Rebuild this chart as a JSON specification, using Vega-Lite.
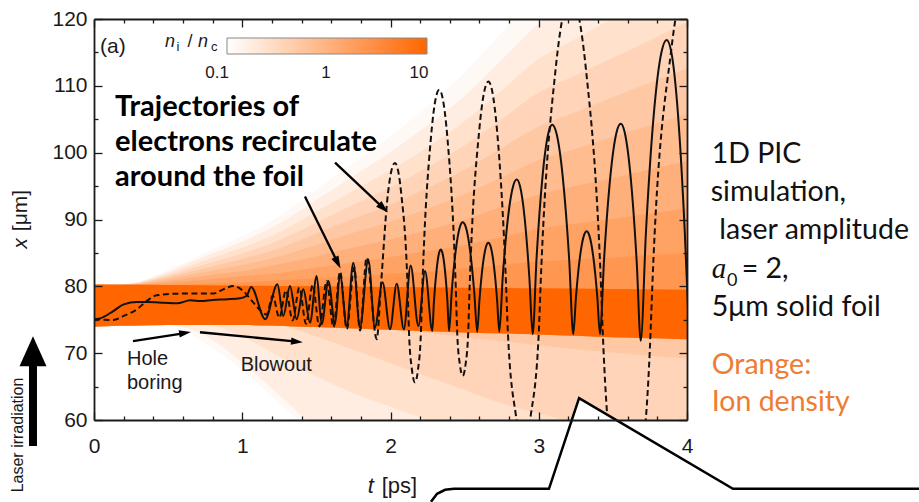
{
"$schema": "https://vega.github.io/schema/vega-lite/v6.json",
"width": 593, "height": 401,
"autosize": {"type": "none"},
"padding": {"left": 94, "top": 19, "right": 232, "bottom": 82},
"background": "white",
"config": {"view": {"stroke": null}},
"resolve": {"axis": {"x": "independent", "y": "independent"}},
"datasets": {
"density": [
{"n":0.12,"t":0,"lo":74.0,"hi":80},{"n":0.12,"t":0.25,"lo":74.1,"hi":80.5},{"n":0.12,"t":0.5,"lo":74.2,"hi":82.5},{"n":0.12,"t":0.75,"lo":71.5,"hi":85},{"n":0.12,"t":1,"lo":67.5,"hi":87.5},{"n":0.12,"t":1.25,"lo":62.5,"hi":90.5},{"n":0.12,"t":1.5,"lo":57.5,"hi":94.5},{"n":0.12,"t":1.75,"lo":53,"hi":98.5},{"n":0.12,"t":2,"lo":50,"hi":102.5},{"n":0.12,"t":2.25,"lo":47,"hi":107},{"n":0.12,"t":2.5,"lo":45,"hi":112},{"n":0.12,"t":2.75,"lo":44,"hi":118},{"n":0.12,"t":3,"lo":43,"hi":124},{"n":0.12,"t":3.25,"lo":42,"hi":128},{"n":0.12,"t":3.5,"lo":41,"hi":132},{"n":0.12,"t":3.75,"lo":40,"hi":136},{"n":0.12,"t":4,"lo":40,"hi":140},
{"n":0.17,"t":0,"lo":74.0,"hi":80},{"n":0.17,"t":0.25,"lo":74.1,"hi":80.4},{"n":0.17,"t":0.5,"lo":74.2,"hi":82.2},{"n":0.17,"t":0.75,"lo":72.6,"hi":84.5},{"n":0.17,"t":1,"lo":68.6,"hi":86.7},{"n":0.17,"t":1.25,"lo":63.7,"hi":89.4},{"n":0.17,"t":1.5,"lo":58.7,"hi":92.9},{"n":0.17,"t":1.75,"lo":54.2,"hi":96.5},{"n":0.17,"t":2,"lo":51,"hi":100.1},{"n":0.17,"t":2.25,"lo":49,"hi":104.1},{"n":0.17,"t":2.5,"lo":47,"hi":108.5},{"n":0.17,"t":2.75,"lo":46,"hi":113.9},{"n":0.17,"t":3,"lo":45,"hi":119.3},{"n":0.17,"t":3.25,"lo":44,"hi":122.8},{"n":0.17,"t":3.5,"lo":43,"hi":126.4},{"n":0.17,"t":3.75,"lo":42,"hi":130.0},{"n":0.17,"t":4,"lo":41,"hi":133.5},
{"n":0.25,"t":0,"lo":74.0,"hi":80},{"n":0.25,"t":0.25,"lo":74.1,"hi":80.4},{"n":0.25,"t":0.5,"lo":74.2,"hi":81.9},{"n":0.25,"t":0.75,"lo":74.2,"hi":83.9},{"n":0.25,"t":1,"lo":72.5,"hi":85.8},{"n":0.25,"t":1.25,"lo":69.5,"hi":88.1},{"n":0.25,"t":1.5,"lo":66.5,"hi":91.2},{"n":0.25,"t":1.75,"lo":64,"hi":94.3},{"n":0.25,"t":2,"lo":62,"hi":97.4},{"n":0.25,"t":2.25,"lo":60,"hi":100.8},{"n":0.25,"t":2.5,"lo":58,"hi":104.7},{"n":0.25,"t":2.75,"lo":56.5,"hi":109.3},{"n":0.25,"t":3,"lo":55,"hi":114.0},{"n":0.25,"t":3.25,"lo":53.5,"hi":117.1},{"n":0.25,"t":3.5,"lo":52,"hi":120.1},{"n":0.25,"t":3.75,"lo":51,"hi":123.2},{"n":0.25,"t":4,"lo":50,"hi":126.3},
{"n":0.36,"t":0,"lo":74.0,"hi":80},{"n":0.36,"t":0.25,"lo":74.1,"hi":80.3},{"n":0.36,"t":0.5,"lo":74.2,"hi":81.6},{"n":0.36,"t":0.75,"lo":74.2,"hi":83.3},{"n":0.36,"t":1,"lo":74.2,"hi":84.9},{"n":0.36,"t":1.25,"lo":74.1,"hi":86.9},{"n":0.36,"t":1.5,"lo":72.5,"hi":89.5},{"n":0.36,"t":1.75,"lo":70.5,"hi":92.2},{"n":0.36,"t":2,"lo":68.5,"hi":94.8},{"n":0.36,"t":2.25,"lo":66.5,"hi":97.8},{"n":0.36,"t":2.5,"lo":64.5,"hi":101.1},{"n":0.36,"t":2.75,"lo":62.5,"hi":105.0},{"n":0.36,"t":3,"lo":61,"hi":109.0},{"n":0.36,"t":3.25,"lo":59.5,"hi":111.6},{"n":0.36,"t":3.5,"lo":58,"hi":114.2},{"n":0.36,"t":3.75,"lo":57,"hi":116.8},{"n":0.36,"t":4,"lo":56,"hi":119.5},
{"n":0.52,"t":0,"lo":74.0,"hi":80},{"n":0.52,"t":0.25,"lo":74.1,"hi":80.3},{"n":0.52,"t":0.5,"lo":74.2,"hi":81.4},{"n":0.52,"t":0.75,"lo":74.2,"hi":82.7},{"n":0.52,"t":1,"lo":74.2,"hi":84.1},{"n":0.52,"t":1.25,"lo":74.1,"hi":85.7},{"n":0.52,"t":1.5,"lo":73.9,"hi":87.9},{"n":0.52,"t":1.75,"lo":73.7,"hi":90.1},{"n":0.52,"t":2,"lo":73.5,"hi":92.2},{"n":0.52,"t":2.25,"lo":73.0,"hi":94.7},{"n":0.52,"t":2.5,"lo":72.4,"hi":97.4},{"n":0.52,"t":2.75,"lo":71.8,"hi":100.7},{"n":0.52,"t":3,"lo":71.2,"hi":103.9},{"n":0.52,"t":3.25,"lo":70.6,"hi":106.1},{"n":0.52,"t":3.5,"lo":70.1,"hi":108.3},{"n":0.52,"t":3.75,"lo":69.6,"hi":110.5},{"n":0.52,"t":4,"lo":69.2,"hi":112.6},
{"n":0.75,"t":0,"lo":74.0,"hi":80},{"n":0.75,"t":0.25,"lo":74.1,"hi":80.2},{"n":0.75,"t":0.5,"lo":74.2,"hi":81.1},{"n":0.75,"t":0.75,"lo":74.2,"hi":82.2},{"n":0.75,"t":1,"lo":74.2,"hi":83.2},{"n":0.75,"t":1.25,"lo":74.1,"hi":84.5},{"n":0.75,"t":1.5,"lo":73.9,"hi":86.2},{"n":0.75,"t":1.75,"lo":73.7,"hi":88.0},{"n":0.75,"t":2,"lo":73.5,"hi":89.7},{"n":0.75,"t":2.25,"lo":73.3,"hi":91.6},{"n":0.75,"t":2.5,"lo":73.1,"hi":93.8},{"n":0.75,"t":2.75,"lo":73.0,"hi":96.3},{"n":0.75,"t":3,"lo":72.8,"hi":98.9},{"n":0.75,"t":3.25,"lo":72.6,"hi":100.6},{"n":0.75,"t":3.5,"lo":72.4,"hi":102.4},{"n":0.75,"t":3.75,"lo":72.3,"hi":104.1},{"n":0.75,"t":4,"lo":72.1,"hi":105.8},
{"n":1.1,"t":0,"lo":74.0,"hi":80},{"n":1.1,"t":0.25,"lo":74.1,"hi":80.2},{"n":1.1,"t":0.5,"lo":74.2,"hi":80.8},{"n":1.1,"t":0.75,"lo":74.2,"hi":81.6},{"n":1.1,"t":1,"lo":74.2,"hi":82.3},{"n":1.1,"t":1.25,"lo":74.1,"hi":83.3},{"n":1.1,"t":1.5,"lo":73.9,"hi":84.5},{"n":1.1,"t":1.75,"lo":73.7,"hi":85.8},{"n":1.1,"t":2,"lo":73.5,"hi":87.0},{"n":1.1,"t":2.25,"lo":73.3,"hi":88.4},{"n":1.1,"t":2.5,"lo":73.1,"hi":90.0},{"n":1.1,"t":2.75,"lo":73.0,"hi":91.9},{"n":1.1,"t":3,"lo":72.8,"hi":93.7},{"n":1.1,"t":3.25,"lo":72.6,"hi":95.0},{"n":1.1,"t":3.5,"lo":72.4,"hi":96.2},{"n":1.1,"t":3.75,"lo":72.3,"hi":97.5},{"n":1.1,"t":4,"lo":72.1,"hi":98.7},
{"n":1.6,"t":0,"lo":74.0,"hi":80},{"n":1.6,"t":0.25,"lo":74.1,"hi":80.1},{"n":1.6,"t":0.5,"lo":74.2,"hi":80.5},{"n":1.6,"t":0.75,"lo":74.2,"hi":81.0},{"n":1.6,"t":1,"lo":74.2,"hi":81.5},{"n":1.6,"t":1.25,"lo":74.1,"hi":82.0},{"n":1.6,"t":1.5,"lo":73.9,"hi":82.8},{"n":1.6,"t":1.75,"lo":73.7,"hi":83.6},{"n":1.6,"t":2,"lo":73.5,"hi":84.4},{"n":1.6,"t":2.25,"lo":73.3,"hi":85.3},{"n":1.6,"t":2.5,"lo":73.1,"hi":86.2},{"n":1.6,"t":2.75,"lo":73.0,"hi":87.4},{"n":1.6,"t":3,"lo":72.8,"hi":88.6},{"n":1.6,"t":3.25,"lo":72.6,"hi":89.4},{"n":1.6,"t":3.5,"lo":72.4,"hi":90.1},{"n":1.6,"t":3.75,"lo":72.3,"hi":90.9},{"n":1.6,"t":4,"lo":72.1,"hi":91.7},
{"n":2.3,"t":0,"lo":74.0,"hi":80},{"n":2.3,"t":0.25,"lo":74.1,"hi":80},{"n":2.3,"t":0.5,"lo":74.2,"hi":80.2},{"n":2.3,"t":0.75,"lo":74.2,"hi":80.4},{"n":2.3,"t":1,"lo":74.2,"hi":80.6},{"n":2.3,"t":1.25,"lo":74.1,"hi":80.9},{"n":2.3,"t":1.5,"lo":73.9,"hi":81.2},{"n":2.3,"t":1.75,"lo":73.7,"hi":81.5},{"n":2.3,"t":2,"lo":73.5,"hi":81.9},{"n":2.3,"t":2.25,"lo":73.3,"hi":82.2},{"n":2.3,"t":2.5,"lo":73.1,"hi":82.7},{"n":2.3,"t":2.75,"lo":73.0,"hi":83.2},{"n":2.3,"t":3,"lo":72.8,"hi":83.7},{"n":2.3,"t":3.25,"lo":72.6,"hi":84.0},{"n":2.3,"t":3.5,"lo":72.4,"hi":84.3},{"n":2.3,"t":3.75,"lo":72.3,"hi":84.7},{"n":2.3,"t":4,"lo":72.1,"hi":85.0}
],
"band": [
{"t":0,"lo":74.0,"hi":80.3},{"t":0.5,"lo":74.2,"hi":80.2},{"t":1,"lo":74.2,"hi":80.1},{"t":1.5,"lo":73.9,"hi":80.0},{"t":2,"lo":73.5,"hi":79.9},{"t":2.5,"lo":73.1,"hi":79.8},{"t":3,"lo":72.8,"hi":79.7},{"t":3.5,"lo":72.4,"hi":79.6},{"t":4,"lo":72.1,"hi":79.5}
],
"traj": [
{"id":"s","t":0,"x":75.07},{"id":"s","t":0.04,"x":75.2},{"id":"s","t":0.13,"x":76.3},{"id":"s","t":0.2,"x":77.3},{"id":"s","t":0.29,"x":77.66},{"id":"s","t":0.36,"x":77.66},{"id":"s","t":0.47,"x":77.56},{"id":"s","t":0.56,"x":77.46},{"id":"s","t":0.65,"x":77.9},{"id":"s","t":0.72,"x":77.8},{"id":"s","t":0.8,"x":77.97},{"id":"s","t":0.9,"x":78.07},{"id":"s","t":0.985,"x":78.2},{"id":"s","t":1.03,"x":78.6},{"id":"s","t":1.06,"x":79.9},{"id":"s","t":1.155,"x":75.07},
{"id":"s","t":1.237,"x":80.3},{"id":"s","t":1.277,"x":75.57},{"id":"s","t":1.322,"x":80.05},{"id":"s","t":1.367,"x":75.07},{"id":"s","t":1.412,"x":79.55},{"id":"s","t":1.457,"x":74.58},{"id":"s","t":1.502,"x":81.54},{"id":"s","t":1.536,"x":74.33},{"id":"s","t":1.581,"x":80.79},{"id":"s","t":1.626,"x":74.33},{"id":"s","t":1.659,"x":81.79},{"id":"s","t":1.705,"x":74.07},{"id":"s","t":1.749,"x":83.54},{"id":"s","t":1.794,"x":73.84},{"id":"s","t":1.85,"x":84.03},{"id":"s","t":1.895,"x":73.84},{"id":"s","t":1.946,"x":80.6},{"id":"s","t":1.997,"x":73.58},{"id":"s","t":2.042,"x":80.4},{"id":"s","t":2.09,"x":73.58},{"id":"s","t":2.136,"x":83.1},{"id":"s","t":2.188,"x":74.07},{"id":"s","t":2.233,"x":82.28},{"id":"s","t":2.282,"x":73.33},
{"id":"s","t":2.293,"x":77.72},{"id":"s","t":2.311,"x":82.47},{"id":"s","t":2.328,"x":85.03},{"id":"s","t":2.339,"x":85.52},{"id":"s","t":2.35,"x":85.03},{"id":"s","t":2.367,"x":82.47},{"id":"s","t":2.384,"x":77.72},{"id":"s","t":2.395,"x":73.33},
{"id":"s","t":2.413,"x":79.19},{"id":"s","t":2.441,"x":85.53},{"id":"s","t":2.469,"x":88.95},{"id":"s","t":2.487,"x":89.6},{"id":"s","t":2.507,"x":88.94},{"id":"s","t":2.536,"x":85.5},{"id":"s","t":2.565,"x":79.09},{"id":"s","t":2.585,"x":73.18},
{"id":"s","t":2.6,"x":77.98},{"id":"s","t":2.6225,"x":83.18},{"id":"s","t":2.645,"x":85.99},{"id":"s","t":2.66,"x":86.52},{"id":"s","t":2.675,"x":85.99},{"id":"s","t":2.697,"x":83.18},{"id":"s","t":2.719,"x":77.98},{"id":"s","t":2.734,"x":73.18},
{"id":"s","t":2.757,"x":81.38},{"id":"s","t":2.7925,"x":90.27},{"id":"s","t":2.828,"x":95.06},{"id":"s","t":2.851,"x":95.97},{"id":"s","t":2.873,"x":95.04},{"id":"s","t":2.905,"x":90.19},{"id":"s","t":2.937,"x":81.17},{"id":"s","t":2.959,"x":72.84},
{"id":"s","t":2.985,"x":84.12},{"id":"s","t":3.025,"x":96.35},{"id":"s","t":3.065,"x":102.93},{"id":"s","t":3.091,"x":104.18},{"id":"s","t":3.119,"x":102.93},{"id":"s","t":3.162,"x":96.35},{"id":"s","t":3.205,"x":84.12},{"id":"s","t":3.233,"x":72.84},
{"id":"s","t":3.251,"x":78.39},{"id":"s","t":3.278,"x":84.4},{"id":"s","t":3.305,"x":87.63},{"id":"s","t":3.323,"x":88.25},{"id":"s","t":3.341,"x":87.63},{"id":"s","t":3.368,"x":84.4},{"id":"s","t":3.395,"x":78.39},{"id":"s","t":3.413,"x":72.84},
{"id":"s","t":3.441,"x":84.18},{"id":"s","t":3.483,"x":96.46},{"id":"s","t":3.525,"x":103.07},{"id":"s","t":3.553,"x":104.33},{"id":"s","t":3.58,"x":103.03},{"id":"s","t":3.6205,"x":96.21},{"id":"s","t":3.661,"x":83.54},{"id":"s","t":3.688,"x":71.84},
{"id":"s","t":3.723,"x":88.05},{"id":"s","t":3.7755,"x":105.61},{"id":"s","t":3.828,"x":115.07},{"id":"s","t":3.863,"x":116.87},{"id":"s","t":3.894,"x":115.08},{"id":"s","t":3.9395,"x":105.65},{"id":"s","t":3.985,"x":88.15},{"id":"s","t":4.016,"x":72},
{"id":"d","t":0,"x":75.07},{"id":"d","t":0.07,"x":75.0},{"id":"d","t":0.13,"x":74.97},{"id":"d","t":0.2,"x":75.57},{"id":"d","t":0.29,"x":76.57},{"id":"d","t":0.355,"x":77.8},{"id":"d","t":0.423,"x":78.66},{"id":"d","t":0.58,"x":78.91},{"id":"d","t":0.805,"x":78.91},{"id":"d","t":0.872,"x":79.55},{"id":"d","t":0.94,"x":80.05},{"id":"d","t":1.007,"x":79.3},{"id":"d","t":1.075,"x":77.57},{"id":"d","t":1.165,"x":75.8},
{"id":"d","t":1.205,"x":78.6},{"id":"d","t":1.25,"x":75.3},{"id":"d","t":1.295,"x":79.4},{"id":"d","t":1.34,"x":74.9},{"id":"d","t":1.385,"x":79.8},{"id":"d","t":1.43,"x":74.4},{"id":"d","t":1.475,"x":80.2},{"id":"d","t":1.52,"x":74.0},{"id":"d","t":1.57,"x":80.8},{"id":"d","t":1.615,"x":73.9},{"id":"d","t":1.66,"x":82.2},{"id":"d","t":1.705,"x":73.6},{"id":"d","t":1.755,"x":82.8},{"id":"d","t":1.795,"x":73.4},{"id":"d","t":1.839,"x":84.3},{"id":"d","t":1.907,"x":72.1},
{"id":"d","t":1.935,"x":80},{"id":"d","t":1.9825,"x":93.85},{"id":"d","t":2.011,"x":97.72},{"id":"d","t":2.03,"x":98.46},{"id":"d","t":2.047,"x":97.72},{"id":"d","t":2.0725,"x":93.85},{"id":"d","t":2.115,"x":80},{"id":"d","t":2.125,"x":73},{"id":"d","t":2.145,"x":67.47},{"id":"d","t":2.165,"x":65.63},{"id":"d","t":2.185,"x":67.47},{"id":"d","t":2.205,"x":73},{"id":"d","t":2.215,"x":80},
{"id":"d","t":2.272,"x":102.05},{"id":"d","t":2.306,"x":108.22},{"id":"d","t":2.329,"x":109.4},{"id":"d","t":2.351,"x":108.22},{"id":"d","t":2.3845,"x":102.05},{"id":"d","t":2.44,"x":80},{"id":"d","t":2.45,"x":73},{"id":"d","t":2.4685,"x":68.21},{"id":"d","t":2.487,"x":66.61},{"id":"d","t":2.5055,"x":68.21},{"id":"d","t":2.524,"x":73},{"id":"d","t":2.534,"x":80},
{"id":"d","t":2.597,"x":102.98},{"id":"d","t":2.635,"x":109.41},{"id":"d","t":2.66,"x":110.64},{"id":"d","t":2.684,"x":109.41},{"id":"d","t":2.72,"x":102.98},{"id":"d","t":2.78,"x":80},{"id":"d","t":2.792,"x":73},{"id":"d","t":2.844,"x":61},{"id":"d","t":2.896,"x":57},{"id":"d","t":2.948,"x":61},{"id":"d","t":3.0,"x":73},{"id":"d","t":3.012,"x":80},
{"id":"d","t":3.114,"x":112.55},{"id":"d","t":3.175,"x":121.66},{"id":"d","t":3.216,"x":123.4},{"id":"d","t":3.257,"x":121.66},{"id":"d","t":3.318,"x":112.55},{"id":"d","t":3.42,"x":80},{"id":"d","t":3.432,"x":73},{"id":"d","t":3.5125,"x":49.75},{"id":"d","t":3.593,"x":42},{"id":"d","t":3.6735,"x":49.75},{"id":"d","t":3.754,"x":73},{"id":"d","t":3.766,"x":80},{"id":"d","t":3.893,"x":115.25},{"id":"d","t":3.969,"x":125.12},{"id":"d","t":4.02,"x":127}
],
"arrows": [
{"t":1.626,"x":98.51,"t2":1.952,"x2":91.70},
{"t":1.423,"x":93.43,"t2":1.644,"x2":83.51},
{"t":0.263,"x":71.79,"t2":0.614,"x2":73.01},
{"t":0.715,"x":73.13,"t2":1.369,"x2":71.72}
],
"legendLabels": [
{"t":0.830,"label":"0.1"},{"t":1.565,"label":"1"},{"t":2.192,"label":"10"}
],
"bubble": [
{"t":2.273,"x":47.76},{"t":2.314,"x":48.96},{"t":2.368,"x":49.55},{"t":2.428,"x":49.70},{"t":3.069,"x":49.70},{"t":3.272,"x":63.28},{"t":4.310,"x":49.70},{"t":5.565,"x":49.70}
],
"bubbleFill": [
{"t":3.069,"lo":49.70,"hi":49.70},{"t":3.272,"lo":49.70,"hi":63.28},{"t":4.310,"lo":49.70,"hi":49.70}
]
},
"layer": [
{
"data": {"name": "density"},
"mark": {"type": "area", "orient": "vertical", "interpolate": "monotone", "clip": true},
"encoding": {
"x": {"field": "t", "type": "quantitative", "scale": {"domain": [0, 4], "nice": false, "zero": false},
"axis": {"orient": "bottom", "values": [0,0.2,0.4,0.6,0.8,1,1.2,1.4,1.6,1.8,2,2.2,2.4,2.6,2.8,3,3.2,3.4,3.6,3.8,4], "title": null, "grid": false,
"labelExpr": "abs(datum.value-round(datum.value))<0.001 ? format(datum.value, 'd') : ''", "labelFlush": false, "labelOverlap": false,
"labelFont": "Liberation Sans", "labelFontSize": 21, "labelColor": "#1a1a1a", "labelPadding": 23,
"tickSize": {"condition": {"test": "abs(datum.value-round(datum.value))<0.001", "value": -8}, "value": -4},
"tickColor": "#1a1a1a", "tickWidth": 1.3, "domainColor": "#1a1a1a", "domainWidth": 1.8, "zindex": 1}},
"y": {"field": "lo", "type": "quantitative", "scale": {"domain": [60, 120], "nice": false, "zero": false},
"axis": {"orient": "left", "values": [60,65,70,75,80,85,90,95,100,105,110,115,120], "title": null, "grid": false,
"labelExpr": "datum.value % 10 === 0 ? datum.label : ''", "labelFlush": false, "labelOverlap": false,
"labelFont": "Liberation Sans", "labelFontSize": 21, "labelColor": "#1a1a1a", "labelPadding": 15,
"tickSize": {"condition": {"test": "datum.value % 10 === 0", "value": -8}, "value": -4},
"tickColor": "#1a1a1a", "tickWidth": 1.3, "domainColor": "#1a1a1a", "domainWidth": 1.8, "zindex": 1}},
"y2": {"field": "hi"},
"color": {"field": "n", "type": "quantitative",
"scale": {"type": "log", "domain": [0.1, 10], "range": ["#ffffff", "#ff6600"], "interpolate": "rgb"},
"legend": {"orient": "none", "legendX": 133, "legendY": 19, "direction": "horizontal", "gradientLength": 200, "gradientThickness": 16,
"title": null, "labelExpr": "''", "labelOpacity": 0, "labelFontSize": 1, "gradientStrokeColor": "#888888", "gradientStrokeWidth": 1}},
"detail": {"field": "n", "type": "nominal"}
}
},
{
"data": {"name": "band"},
"mark": {"type": "area", "orient": "vertical", "interpolate": "monotone", "clip": true, "color": "#ff6600"},
"encoding": {
"x": {"field": "t", "type": "quantitative", "axis": null},
"y": {"field": "lo", "type": "quantitative", "axis": null},
"y2": {"field": "hi"}
}
},
{
"data": {"name": "traj"},
"transform": [{"filter": "datum.id === 's'"}],
"mark": {"type": "line", "interpolate": "monotone", "clip": true, "color": "#111111", "strokeWidth": 2},
"encoding": {
"x": {"field": "t", "type": "quantitative",
"axis": {"orient": "top", "values": [0,0.2,0.4,0.6,0.8,1,1.2,1.4,1.6,1.8,2,2.2,2.4,2.6,2.8,3,3.2,3.4,3.6,3.8,4], "title": null, "grid": false, "labels": false,
"tickSize": {"condition": {"test": "abs(datum.value-round(datum.value))<0.001", "value": -8}, "value": -4},
"tickColor": "#1a1a1a", "tickWidth": 1.3, "domainColor": "#1a1a1a", "domainWidth": 1.8, "zindex": 1}},
"y": {"field": "x", "type": "quantitative",
"axis": {"orient": "right", "values": [60,65,70,75,80,85,90,95,100,105,110,115,120], "title": null, "grid": false, "labels": false,
"tickSize": {"condition": {"test": "datum.value % 10 === 0", "value": -8}, "value": -4},
"tickColor": "#1a1a1a", "tickWidth": 1.3, "domainColor": "#1a1a1a", "domainWidth": 1.8, "zindex": 1}}
}
},
{
"data": {"name": "traj"},
"transform": [{"filter": "datum.id === 'd'"}],
"mark": {"type": "line", "interpolate": "monotone", "clip": true, "color": "#111111", "strokeWidth": 2, "strokeDash": [6, 3.5]},
"encoding": {
"x": {"field": "t", "type": "quantitative", "axis": null},
"y": {"field": "x", "type": "quantitative", "axis": null}
}
},
{
"data": {"name": "arrows"},
"mark": {"type": "rule", "color": "#000000", "strokeWidth": 2.3},
"encoding": {
"x": {"field": "t", "type": "quantitative", "axis": null},
"y": {"field": "x", "type": "quantitative", "axis": null},
"x2": {"field": "t2"},
"y2": {"field": "x2"}
}
},
{"data": {"values": [{}]}, "mark": {"type": "point", "shape": "M0,-1L0.62,1L-0.62,1Z", "filled": true, "color": "#000000", "opacity": 1, "size": 160, "angle": 133.3},
"encoding": {"x": {"datum": 1.952, "type": "quantitative", "axis": null}, "y": {"datum": 91.70, "type": "quantitative", "axis": null}}},
{"data": {"values": [{}]}, "mark": {"type": "point", "shape": "M0,-1L0.62,1L-0.62,1Z", "filled": true, "color": "#000000", "opacity": 1, "size": 160, "angle": 153.8},
"encoding": {"x": {"datum": 1.644, "type": "quantitative", "axis": null}, "y": {"datum": 83.51, "type": "quantitative", "axis": null}}},
{"data": {"values": [{}]}, "mark": {"type": "point", "shape": "M0,-1L0.62,1L-0.62,1Z", "filled": true, "color": "#000000", "opacity": 1, "size": 140, "angle": 81},
"encoding": {"x": {"datum": 0.614, "type": "quantitative", "axis": null}, "y": {"datum": 73.01, "type": "quantitative", "axis": null}}},
{"data": {"values": [{}]}, "mark": {"type": "point", "shape": "M0,-1L0.62,1L-0.62,1Z", "filled": true, "color": "#000000", "opacity": 1, "size": 140, "angle": 95.6},
"encoding": {"x": {"datum": 1.369, "type": "quantitative", "axis": null}, "y": {"datum": 71.72, "type": "quantitative", "axis": null}}},
{"data": {"values": [{}]}, "mark": {"type": "rule", "color": "#000000", "strokeWidth": 8},
"encoding": {"x": {"datum": -0.4115, "type": "quantitative", "axis": null}, "y": {"datum": 56.12, "type": "quantitative", "axis": null}, "y2": {"datum": 69.0}}},
{"data": {"values": [{}]}, "mark": {"type": "point", "shape": "M-0.9,1L0.9,1L0,-1Z", "filled": true, "color": "#000000", "opacity": 1, "size": 900},
"encoding": {"x": {"datum": -0.4115, "type": "quantitative", "axis": null}, "y": {"datum": 70.3, "type": "quantitative", "axis": null}}},
{"data": {"name": "legendLabels"}, "mark": {"type": "text", "font": "Liberation Sans", "fontSize": 17, "align": "center", "baseline": "alphabetic", "color": "#1a1a1a"},
"encoding": {"x": {"field": "t", "type": "quantitative", "axis": null}, "y": {"datum": 111.19, "type": "quantitative", "axis": null}, "text": {"field": "label"}}},
{"data": {"values": [{}]}, "mark": {"type": "text", "text": "(a)", "font": "Liberation Sans", "fontSize": 21, "align": "left", "baseline": "alphabetic", "color": "#1a1a1a"},
"encoding": {"x": {"datum": 0.0405, "type": "quantitative", "axis": null}, "y": {"datum": 114.9, "type": "quantitative", "axis": null}}},
{"data": {"values": [{}]}, "mark": {"type": "text", "text": "n", "font": "Liberation Sans", "fontStyle": "italic", "fontSize": 18, "align": "center", "baseline": "alphabetic", "color": "#1a1a1a"},
"encoding": {"x": {"datum": 0.513, "type": "quantitative", "axis": null}, "y": {"datum": 115.82, "type": "quantitative", "axis": null}}},
{"data": {"values": [{}]}, "mark": {"type": "text", "text": "i", "font": "Liberation Sans", "fontSize": 13, "align": "left", "baseline": "alphabetic", "color": "#1a1a1a"},
"encoding": {"x": {"datum": 0.556, "type": "quantitative", "axis": null}, "y": {"datum": 115.22, "type": "quantitative", "axis": null}}},
{"data": {"values": [{}]}, "mark": {"type": "text", "text": "/", "font": "Liberation Sans", "fontSize": 18, "align": "center", "baseline": "alphabetic", "color": "#1a1a1a"},
"encoding": {"x": {"datum": 0.6476, "type": "quantitative", "axis": null}, "y": {"datum": 115.82, "type": "quantitative", "axis": null}}},
{"data": {"values": [{}]}, "mark": {"type": "text", "text": "n", "font": "Liberation Sans", "fontStyle": "italic", "fontSize": 18, "align": "center", "baseline": "alphabetic", "color": "#1a1a1a"},
"encoding": {"x": {"datum": 0.7352, "type": "quantitative", "axis": null}, "y": {"datum": 115.82, "type": "quantitative", "axis": null}}},
{"data": {"values": [{}]}, "mark": {"type": "text", "text": "c", "font": "Liberation Sans", "fontSize": 13, "align": "left", "baseline": "alphabetic", "color": "#1a1a1a"},
"encoding": {"x": {"datum": 0.79, "type": "quantitative", "axis": null}, "y": {"datum": 115.22, "type": "quantitative", "axis": null}}},
{"data": {"values": [{}]}, "mark": {"type": "text", "text": ["Trajectories of", "electrons recirculate", "around the foil"], "font": "Lato", "fontWeight": "bold", "fontSize": 29, "lineHeight": 35, "align": "left", "baseline": "alphabetic", "color": "#000000"},
"encoding": {"x": {"datum": 0.1417, "type": "quantitative", "axis": null}, "y": {"datum": 105.42, "type": "quantitative", "axis": null}}},
{"data": {"values": [{}]}, "mark": {"type": "text", "text": ["Hole", "boring"], "font": "Liberation Sans", "fontSize": 20, "lineHeight": 24, "align": "left", "baseline": "alphabetic", "color": "#1a1a1a"},
"encoding": {"x": {"datum": 0.2226, "type": "quantitative", "axis": null}, "y": {"datum": 68.21, "type": "quantitative", "axis": null}}},
{"data": {"values": [{}]}, "mark": {"type": "text", "text": "Blowout", "font": "Liberation Sans", "fontSize": 20, "align": "left", "baseline": "alphabetic", "color": "#1a1a1a"},
"encoding": {"x": {"datum": 0.9895, "type": "quantitative", "axis": null}, "y": {"datum": 67.36, "type": "quantitative", "axis": null}}},
{"data": {"values": [{}]}, "mark": {"type": "text", "text": "x", "font": "Liberation Sans", "fontStyle": "italic", "fontSize": 21, "angle": 270, "align": "center", "baseline": "middle", "color": "#1a1a1a"},
"encoding": {"x": {"datum": -0.4924, "type": "quantitative", "axis": null}, "y": {"datum": 86.42, "type": "quantitative", "axis": null}}},
{"data": {"values": [{}]}, "mark": {"type": "text", "text": "[μm]", "font": "Liberation Sans", "fontSize": 21, "angle": 270, "align": "center", "baseline": "middle", "color": "#1a1a1a"},
"encoding": {"x": {"datum": -0.4924, "type": "quantitative", "axis": null}, "y": {"datum": 91.34, "type": "quantitative", "axis": null}}},
{"data": {"values": [{}]}, "mark": {"type": "text", "text": "t", "font": "Liberation Sans", "fontStyle": "italic", "fontSize": 22, "align": "center", "baseline": "alphabetic", "color": "#1a1a1a"},
"encoding": {"x": {"datum": 1.868, "type": "quantitative", "axis": null}, "y": {"datum": 49.10, "type": "quantitative", "axis": null}}},
{"data": {"values": [{}]}, "mark": {"type": "text", "text": "[ps]", "font": "Liberation Sans", "fontSize": 22, "align": "center", "baseline": "alphabetic", "color": "#1a1a1a"},
"encoding": {"x": {"datum": 2.06, "type": "quantitative", "axis": null}, "y": {"datum": 49.10, "type": "quantitative", "axis": null}}},
{"data": {"values": [{}]}, "mark": {"type": "text", "text": "Laser irradiation", "font": "Liberation Sans", "fontSize": 16, "angle": 270, "align": "center", "baseline": "middle", "color": "#1a1a1a"},
"encoding": {"x": {"datum": -0.516, "type": "quantitative", "axis": null}, "y": {"datum": 57.76, "type": "quantitative", "axis": null}}},
{"data": {"values": [{}]}, "mark": {"type": "text", "text": "1D PIC", "font": "Lato", "fontSize": 28.5, "align": "left", "baseline": "alphabetic", "color": "#111111"},
"encoding": {"x": {"datum": 4.167, "type": "quantitative", "axis": null}, "y": {"datum": 98.46, "type": "quantitative", "axis": null}}},
{"data": {"values": [{}]}, "mark": {"type": "text", "text": "simulation,", "font": "Lato", "fontSize": 28.5, "align": "left", "baseline": "alphabetic", "color": "#111111"},
"encoding": {"x": {"datum": 4.160, "type": "quantitative", "axis": null}, "y": {"datum": 92.73, "type": "quantitative", "axis": null}}},
{"data": {"values": [{}]}, "mark": {"type": "text", "text": "laser amplitude", "font": "Lato", "fontSize": 28.5, "align": "left", "baseline": "alphabetic", "color": "#111111"},
"encoding": {"x": {"datum": 4.218, "type": "quantitative", "axis": null}, "y": {"datum": 87.01, "type": "quantitative", "axis": null}}},
{"data": {"values": [{}]}, "mark": {"type": "text", "text": "a", "font": "Liberation Serif", "fontStyle": "italic", "fontSize": 29, "align": "left", "baseline": "alphabetic", "color": "#111111"},
"encoding": {"x": {"datum": 4.167, "type": "quantitative", "axis": null}, "y": {"datum": 81.30, "type": "quantitative", "axis": null}}},
{"data": {"values": [{}]}, "mark": {"type": "text", "text": "0", "font": "Lato", "fontSize": 18, "align": "left", "baseline": "alphabetic", "color": "#111111"},
"encoding": {"x": {"datum": 4.27, "type": "quantitative", "axis": null}, "y": {"datum": 80.1, "type": "quantitative", "axis": null}}},
{"data": {"values": [{}]}, "mark": {"type": "text", "text": "= 2,", "font": "Lato", "fontSize": 28.5, "align": "left", "baseline": "alphabetic", "color": "#111111"},
"encoding": {"x": {"datum": 4.369, "type": "quantitative", "axis": null}, "y": {"datum": 81.30, "type": "quantitative", "axis": null}}},
{"data": {"values": [{}]}, "mark": {"type": "text", "text": "5μm solid foil", "font": "Lato", "fontSize": 28.5, "align": "left", "baseline": "alphabetic", "color": "#111111"},
"encoding": {"x": {"datum": 4.167, "type": "quantitative", "axis": null}, "y": {"datum": 75.57, "type": "quantitative", "axis": null}}},
{"data": {"values": [{}]}, "mark": {"type": "text", "text": "Orange:", "font": "Lato", "fontSize": 28.5, "align": "left", "baseline": "alphabetic", "color": "#ed7d31"},
"encoding": {"x": {"datum": 4.167, "type": "quantitative", "axis": null}, "y": {"datum": 66.87, "type": "quantitative", "axis": null}}},
{"data": {"values": [{}]}, "mark": {"type": "text", "text": "Ion density", "font": "Lato", "fontSize": 28.5, "align": "left", "baseline": "alphabetic", "color": "#ed7d31"},
"encoding": {"x": {"datum": 4.167, "type": "quantitative", "axis": null}, "y": {"datum": 61.39, "type": "quantitative", "axis": null}}},
{
"data": {"name": "bubbleFill"},
"mark": {"type": "area", "orient": "vertical", "color": "#ffffff", "opacity": 1},
"encoding": {
"x": {"field": "t", "type": "quantitative", "axis": null},
"y": {"field": "lo", "type": "quantitative", "axis": null},
"y2": {"field": "hi"}
}
},
{
"data": {"name": "bubble"},
"mark": {"type": "line", "color": "#000000", "strokeWidth": 2.5, "strokeJoin": "miter"},
"encoding": {
"x": {"field": "t", "type": "quantitative", "axis": null},
"y": {"field": "x", "type": "quantitative", "axis": null}
}
}
]
}
